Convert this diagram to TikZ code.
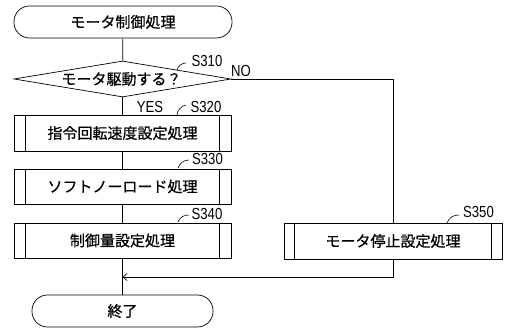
\documentclass[tikz,border=0pt]{standalone}
\usepackage{fontspec}
\newfontfamily\jp[FakeBold=0.7]{Noto Sans CJK JP}
\newfontfamily\lab[FakeStretch=0.82]{Liberation Sans}
\usetikzlibrary{shapes.geometric,arrows.meta}
\tikzset{
  x=1pt,y=1pt,
  every path/.style={line width=0.7pt},
  term/.style={draw, rounded corners=15.5pt, minimum height=32pt, inner sep=0pt,
    font=\jp\fontsize{15}{18}\selectfont},
  proc/.style={draw, minimum height=36pt, inner sep=0pt,
    font=\jp\fontsize{15}{18}\selectfont},
  dia/.style={draw, diamond, aspect=6, minimum width=217pt, minimum height=36pt, inner sep=0pt},
  jptext/.style={font=\jp\fontsize{15}{18}\selectfont, inner sep=0pt},
  steplab/.style={font=\lab\fontsize{16}{18}\selectfont, inner sep=0pt},
  tick/.style={line width=0.6pt},
}
\begin{document}
\begin{tikzpicture}
\useasboundingbox (0,0) rectangle (505,-328);
% nodes
\node[term, minimum width=218pt] (start) at (123,-22) {モータ制御処理};
\node[dia] (d) at (122.5,-79) {};
\node[jptext] (dt) at (121.5,-79) {モータ駆動する？};
\node[proc, minimum width=217pt] (s320) at (122.5,-133) {指令回転速度設定処理};
\node[proc, minimum width=217pt, minimum height=35pt] (s330) at (122.5,-186.5) {ソフトノーロード処理};
\node[proc, minimum width=217pt, minimum height=35pt] (s340) at (122.5,-240.5) {制御量設定処理};
\node[proc, minimum width=218pt] (s350) at (393,-241) {モータ停止設定処理};
\node[term, minimum width=181pt] (end) at (122.5,-311) {終了};
% inner side bars
\foreach \b/\o in {s320/12, s330/12, s340/12, s350/11}{
  \draw ([xshift=\o pt]\b.north west) -- ([xshift=\o pt]\b.south west);
  \draw ([xshift=-\o pt]\b.north east) -- ([xshift=-\o pt]\b.south east);
}
% labels
\node[steplab] (l310) at (207,-61) {S310};
\node[steplab] (lno) at (241,-71) {NO};
\node[steplab] (lyes) at (150,-106.5) {YES};
\node[steplab] (l320) at (206,-106.5) {S320};
\node[steplab] (l330) at (207.5,-158.5) {S330};
\node[steplab] (l340) at (207,-214) {S340};
\node[steplab] (l350) at (478.5,-211.5) {S350};
\draw[tick] (177,-70) to[bend left=35] (186,-63);
\draw[tick] (177,-115) to[bend left=35] (186,-105);
\draw[tick] (178,-168) to[bend left=35] (189,-160);
\draw[tick] (178,-222) to[bend left=35] (189,-215);
\draw[tick] (447,-223) to[bend left=35] (459,-215);
% connectors
\coordinate (m) at (122.5,-277);
\draw (start) -- (d);
\draw (d) -- (s320);
\draw (s320) -- (s330);
\draw (s330) -- (s340);
\draw (s340) -- (end);
\draw (d.east) -| (s350.north);
\draw[-{Straight Barb[length=4pt,width=7pt]}] (s350.south) |- (m);
\end{tikzpicture}
\end{document}
